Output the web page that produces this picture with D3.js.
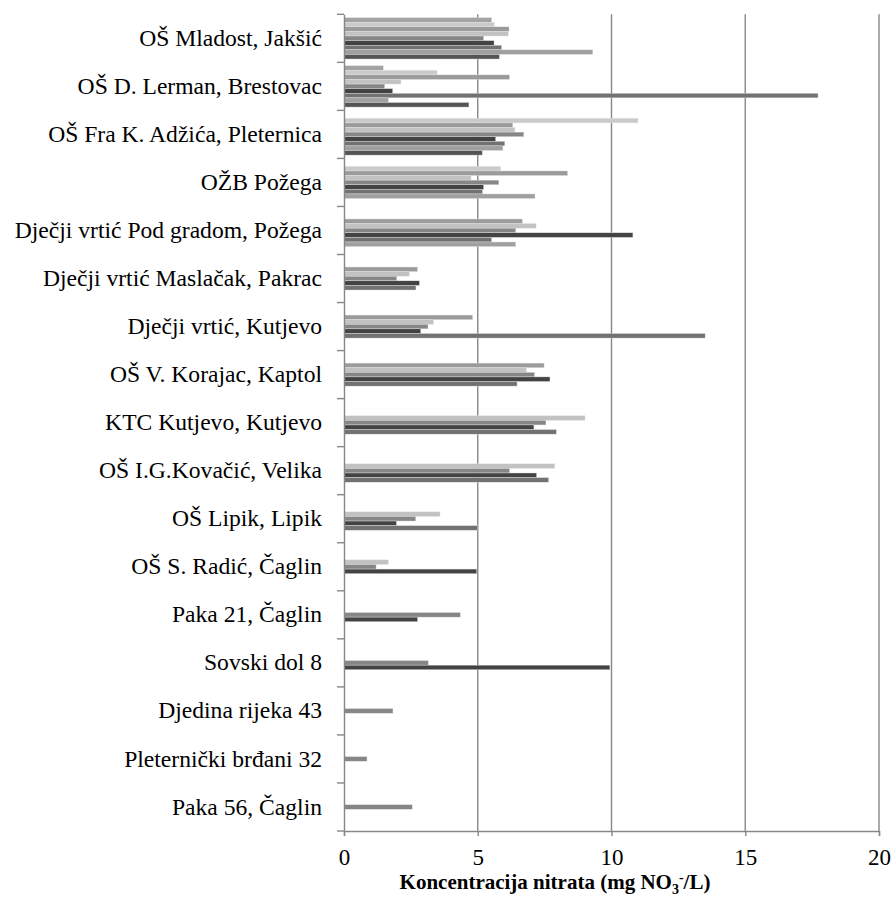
<!DOCTYPE html>
<html>
<head>
<meta charset="utf-8">
<title>Koncentracija nitrata</title>
<style>
  body { margin: 0; background: #fff; }
  text { font-family: "Liberation Serif", "Times New Roman", serif; fill: #000; }
</style>
</head>
<body>
<script src="https://cdn.jsdelivr.net/npm/d3@7"></script>
<script>
var width  = 893;
var height = 897;

// lokacije (odozgo prema dolje)
var categories = [
  "OŠ Mladost, Jakšić",
  "OŠ D. Lerman, Brestovac",
  "OŠ Fra K. Adžića, Pleternica",
  "OŽB Požega",
  "Dječji vrtić Pod gradom, Požega",
  "Dječji vrtić Maslačak, Pakrac",
  "Dječji vrtić, Kutjevo",
  "OŠ V. Korajac, Kaptol",
  "KTC Kutjevo, Kutjevo",
  "OŠ I.G.Kovačić, Velika",
  "OŠ Lipik, Lipik",
  "OŠ S. Radić, Čaglin",
  "Paka 21, Čaglin",
  "Sovski dol 8",
  "Djedina rijeka 43",
  "Pleternički brđani 32",
  "Paka 56, Čaglin"
];

// serije (mjerenja), null = nema podatka
var series = ["s1", "s2", "s3", "s4", "s5", "s6", "s7", "s8", "s9"];
var s1 = [5.52, 1.47, null, null, null, null, null, null, null, null, null, null, null, null, null, null, null];
var s2 = [5.62, 3.48, 10.99, 5.86, null, null, null, null, null, null, null, null, null, null, null, null, null];
var s3 = [6.17, 6.19, 6.31, 8.36, 6.67, 2.75, 4.81, 7.48, null, null, null, null, null, null, null, null, null];
var s4 = [6.14, 2.13, 6.39, 4.75, 7.18, 2.44, 3.35, 6.82, 9.01, 7.88, 3.59, 1.66, null, null, null, null, null];
var s5 = [5.22, 1.52, 6.72, 5.79, 6.42, 1.97, 3.14, 7.12, 7.55, 6.19, 2.68, 1.20, 4.35, 3.15, 1.83, 0.86, 2.55];
var s6 = [5.61, 1.82, 5.67, 5.22, 10.80, 2.82, 2.87, 7.70, 7.10, 7.20, 1.96, 4.96, 2.75, 9.94, null, null, null];
var s7 = [5.89, 17.72, 6.01, 5.18, 5.52, 2.69, 13.50, 6.47, 7.94, 7.65, 5.00, null, null, null, null, null, null];
var s8 = [9.30, 1.66, 5.94, 7.14, 6.42, null, null, null, null, null, null, null, null, null, null, null, null];
var s9 = [5.81, 4.67, 5.17, null, null, null, null, null, null, null, null, null, null, null, null, null, null];
var values = [s1, s2, s3, s4, s5, s6, s7, s8, s9];

var colors = ["#a3a3a3", "#cacaca", "#9b9b9b", "#c2c2c2", "#868686", "#434343", "#727272", "#a0a0a0", "#555555"];

var xTicks = [0, 5, 10, 15, 20];

var margin = {left: 344, right: 14, top: 14.3, bottom: 66};

var svg = d3.select("body").append("svg")
  .attr("width", width)
  .attr("height", height);

var x = d3.scaleLinear()
  .domain([0, 20])
  .range([margin.left, width - margin.right]);

var y0 = d3.scaleBand()
  .domain(categories)
  .range([margin.top, height - margin.bottom])
  .padding(0);

var bw = y0.bandwidth();
var y1 = d3.scaleBand()
  .domain(series)
  .range([bw * 0.069, bw * 0.931])
  .padding(0);

// mreža
svg.append("g")
  .selectAll("line")
  .data(xTicks.slice(1))
  .enter().append("line")
  .attr("x1", function(d) { return x(d); })
  .attr("x2", function(d) { return x(d); })
  .attr("y1", margin.top)
  .attr("y2", height - margin.bottom)
  .attr("stroke", "#878787")
  .attr("stroke-width", 1.4);

// stupci
var rows = [];
categories.forEach(function(c, i) {
  series.forEach(function(s, j) {
    if (values[j][i] != null) rows.push({cat: c, ser: s, v: values[j][i], k: j});
  });
});

svg.append("g")
  .selectAll("rect")
  .data(rows)
  .enter().append("rect")
  .attr("x", x(0))
  .attr("y", function(d) { return y0(d.cat) + y1(d.ser); })
  .attr("width", function(d) { return x(d.v) - x(0); })
  .attr("height", y1.bandwidth())
  .attr("fill", function(d) { return colors[d.k]; })
  .attr("stroke", "#e4e4e4")
  .attr("stroke-width", 0.4);

// os x
var xAxis = d3.axisBottom(x)
  .tickValues(xTicks)
  .tickSize(5)
  .tickPadding(13)
  .tickFormat(d3.format("d"));

var gx = svg.append("g")
  .attr("transform", "translate(0," + (height - margin.bottom) + ")")
  .call(xAxis);
gx.selectAll("path, line").attr("stroke", "#878787").attr("stroke-width", 1.4);
gx.selectAll("text")
  .style("font-family", "'Liberation Serif', 'Times New Roman', serif")
  .style("font-size", "23px")
  .attr("fill", "#000");

// os y
var yAxis = d3.axisLeft(y0).tickSize(0).tickPadding(22);
var gy = svg.append("g")
  .attr("transform", "translate(" + margin.left + ",0)")
  .call(yAxis);
gy.select("path").attr("stroke", "#878787").attr("stroke-width", 1.4);
gy.selectAll("text")
  .style("font-family", "'Liberation Serif', 'Times New Roman', serif")
  .style("font-size", "23.6px")
  .attr("fill", "#000");

// crtice između kategorija
var bounds = categories.map(function(c) { return y0(c); });
bounds.push(height - margin.bottom);
svg.append("g")
  .selectAll("line")
  .data(bounds)
  .enter().append("line")
  .attr("x1", margin.left - 7)
  .attr("x2", margin.left)
  .attr("y1", function(d) { return d; })
  .attr("y2", function(d) { return d; })
  .attr("stroke", "#878787")
  .attr("stroke-width", 1.4);

// naslov osi
var title = svg.append("text")
  .attr("x", 555)
  .attr("y", 889)
  .attr("text-anchor", "middle")
  .style("font-size", "21px")
  .style("font-weight", "bold");
title.append("tspan").text("Koncentracija nitrata (mg NO");
title.append("tspan").text("3").attr("dy", 5).style("font-size", "14px");
title.append("tspan").text("-").attr("dy", -12).style("font-size", "14px");
title.append("tspan").text("/L)").attr("dy", 7);
</script>
</body>
</html>
